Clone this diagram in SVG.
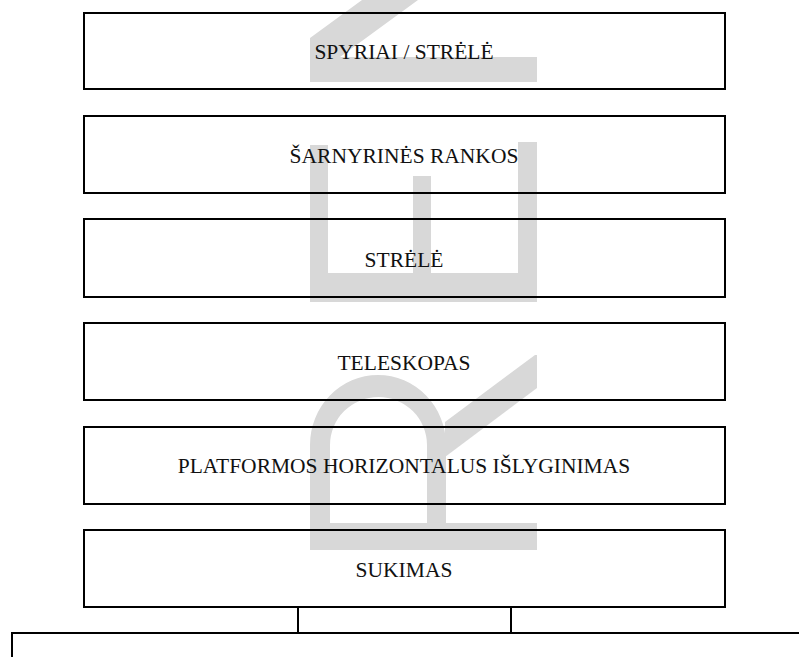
<svg xmlns="http://www.w3.org/2000/svg" width="799" height="657" viewBox="0 0 799 657">
<style>
.wm{fill:#d8d8d8;stroke:none}
.box{fill:none;stroke:#000;stroke-width:2}
.lbl{font-family:'Liberation Serif','Times New Roman',Times,serif;font-size:21.5px;fill:#111;text-anchor:middle}
.ln{fill:none;stroke:#000;stroke-width:2}
</style>
<rect width="799" height="657" fill="#fff"/>
<g id="watermark">
<polygon class="wm" points="310,38 362,0 418,0 340,57 537,57 537,82 310,82"/>
<path class="wm" d="M310,145 H328 V273 H413 V176 H431 V273 H518 V142 H537 V302 H310 Z"/>
<path class="wm" fill-rule="evenodd" d="M310,550 V445 A68,70 0 0 1 446,445 V523 H537 V550 Z M330,523 H427 V445 A48.5,48 0 0 0 330,445 Z"/>
<polygon class="wm" points="535,355 537,355 537,388 445,457 445,422"/>
</g>
<g id="node-spyriai"><rect class="box" x="84" y="13" width="641" height="76"/><text class="lbl" x="404" y="59">SPYRIAI / STRĖLĖ</text></g>
<g id="node-sarnyrines"><rect class="box" x="84" y="116" width="641" height="77"/><text class="lbl" x="404" y="163">ŠARNYRINĖS RANKOS</text></g>
<g id="node-strele"><rect class="box" x="84" y="219" width="641" height="78"/><text class="lbl" x="404" y="267">STRĖLĖ</text></g>
<g id="node-teleskopas"><rect class="box" x="84" y="323" width="641" height="77"/><text class="lbl" x="404" y="370">TELESKOPAS</text></g>
<g id="node-platformos"><rect class="box" x="84" y="427" width="641" height="77"/><text class="lbl" x="404" y="473">PLATFORMOS HORIZONTALUS IŠLYGINIMAS</text></g>
<g id="node-sukimas"><rect class="box" x="84" y="530" width="641" height="77"/><text class="lbl" x="404" y="577">SUKIMAS</text></g>
<g id="connectors">
<line class="ln" x1="298" y1="607" x2="298" y2="633"/>
<line class="ln" x1="511" y1="607" x2="511" y2="633"/>
<polyline class="ln" points="12,657 12,633 799,633"/>
</g>
</svg>
